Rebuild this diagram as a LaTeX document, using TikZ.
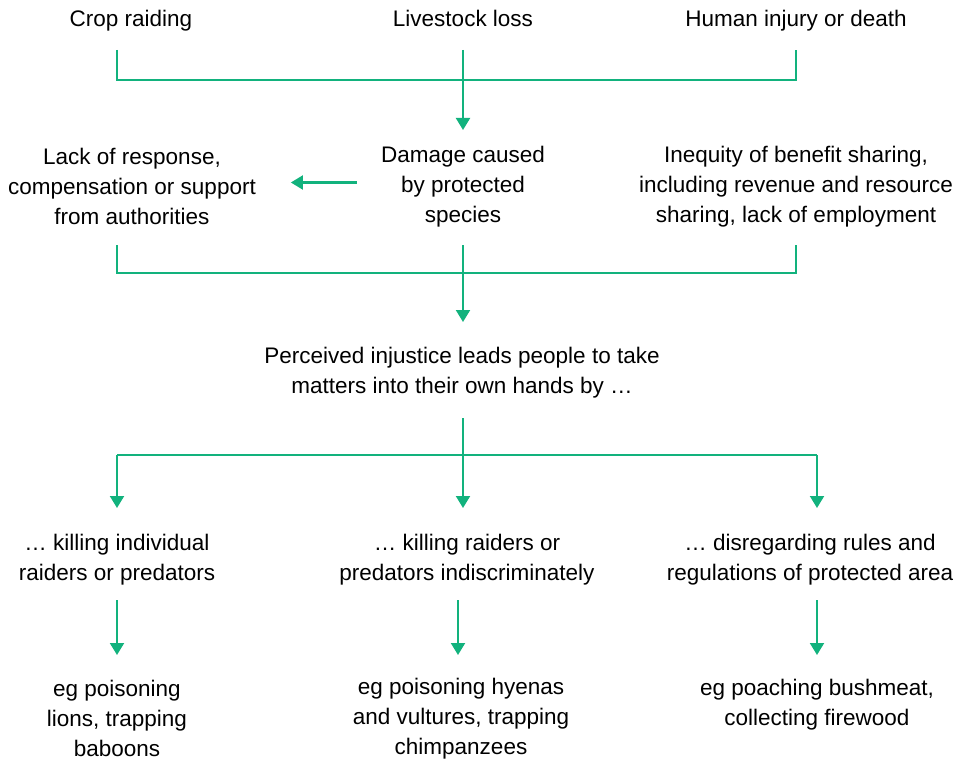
\documentclass[tikz,border=0pt]{standalone}
\usepackage{fontspec}
\setmainfont{Liberation Sans}
\usetikzlibrary{arrows.meta}
\definecolor{leafgreen}{RGB}{18,178,125}
\begin{document}
\begin{tikzpicture}
  [x=1pt,y=-1pt,every node/.style={align=center,inner sep=0pt,font=\fontsize{22.5}{30}\selectfont}]
  \tikzstyle{link} = [draw=leafgreen,line width=2pt]
  \tikzstyle{flow} = [link,-{Triangle[width=14pt,length=12pt]}]
  \useasboundingbox (0,0) rectangle (960,762);
  % causes of damage
  \node[anchor=base] (crop)   at (131,27) {Crop raiding};
  \node[anchor=base] (loss)   at (463,27) {Livestock loss};
  \node[anchor=base] (injury) at (796,27) {Human injury or death};
  % grievances
  \node (support) at (132,186.5) {Lack of response,\\compensation or support\\from authorities};
  \node (damage)  at (463,186.5) {Damage caused\\by protected\\species};
  \node (equity)  at (796,186.5) {Inequity of benefit sharing,\\including revenue and resource\\sharing, lack of employment};
  % reaction
  \node (injustice) at (462,373) {Perceived injustice leads people to take\\matters into their own hands by \dots};
  % actions
  \node (kill)   at (117,559.5) {\dots\ killing individual\\raiders or predators};
  \node (indisc) at (467,559.5) {\dots\ killing raiders or\\predators indiscriminately};
  \node (rules)  at (810,559.5) {\dots\ disregarding rules and\\regulations of protected area};
  % examples
  \node (lions)   at (117,718.5) {eg poisoning\\lions, trapping\\baboons};
  \node (hyenas)  at (461,719) {eg poisoning hyenas\\and vultures, trapping\\chimpanzees};
  \node (poach)   at (817,704.5) {eg poaching bushmeat,\\collecting firewood};
  % rungs
  \coordinate (r1) at (0,50);   \coordinate (b1) at (0,80);   \coordinate (t1) at (0,130);
  \coordinate (r2) at (0,245);  \coordinate (b2) at (0,273);  \coordinate (t2) at (0,322);
  \coordinate (r3) at (0,418);  \coordinate (b3) at (0,455);  \coordinate (t3) at (0,508);
  \coordinate (r4) at (0,600);  \coordinate (t4) at (0,655);
  \coordinate (c1) at (117,0);  \coordinate (c3) at (817,0);  \coordinate (c4) at (458,0);
  \draw[link] (c1 |- r1) |- (injury |- b1) -- (injury |- r1);
  \draw[flow] (loss |- r1) -- (damage |- t1);
  \draw[flow] (damage.west) ++(-24,-4) coordinate (d0) -- ++(-66,0);
  \draw[link] (c1 |- r2) |- (injury |- b2) -- (injury |- r2);
  \draw[flow] (damage |- r2) -- (loss |- t2);
  \draw[flow] (loss |- r3) -- (loss |- t3);
  \draw[flow] (c1 |- b3) -- (c1 |- t3);
  \draw[link] (c1 |- b3) -- (c3 |- b3);
  \draw[flow] (c3 |- b3) -- (c3 |- t3);
  \foreach \col in {c1,c4,c3}
    \draw[flow] (\col |- r4) -- (\col |- t4);
\end{tikzpicture}
\end{document}
